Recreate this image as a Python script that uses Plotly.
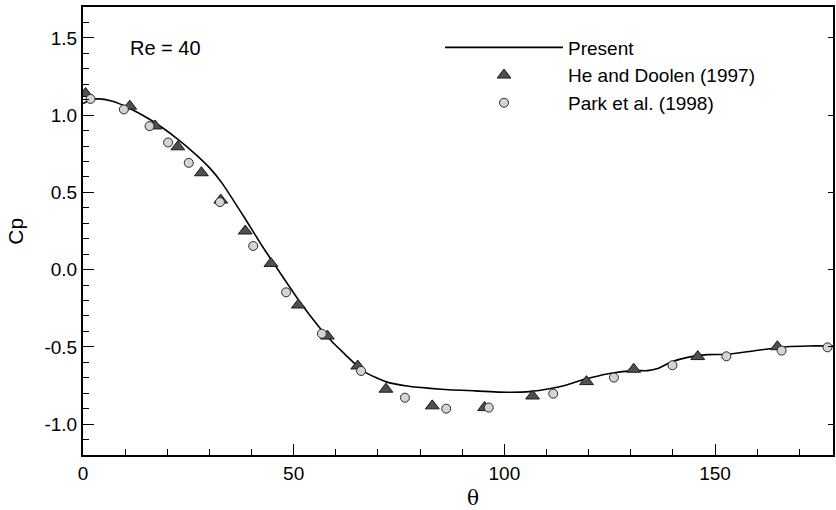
import plotly.graph_objects as go

# Present (line)
present_theta = [0, 2, 4, 7, 11, 16, 22, 27, 30, 33, 38, 42.6, 47.4, 51.7, 53.7, 57.6,
                 61.9, 66.7, 71.8, 77.3, 85, 93, 101, 106, 111, 115, 119, 125, 131,
                 134, 136.4, 139.6, 143.5, 148.2, 153, 159.3, 164, 167, 172, 178]
present_cp = [1.075, 1.10, 1.105, 1.09, 1.045, 0.97, 0.855, 0.74, 0.66, 0.56, 0.35, 0.15,
              -0.046, -0.218, -0.29, -0.423, -0.541, -0.66, -0.725, -0.755, -0.774,
              -0.785, -0.794, -0.79, -0.77, -0.745, -0.71, -0.672, -0.654, -0.654,
              -0.64, -0.598, -0.568, -0.55, -0.548, -0.525, -0.509, -0.499, -0.494, -0.494]

# He and Doolen (1997)
he_theta = [0.6, 11.1, 17.1, 22.5, 28.1, 32.7, 38.5, 44.6, 51.1, 58.0, 65.2, 71.9,
            82.9, 95.3, 106.7, 119.5, 130.7, 145.9, 164.8]
he_cp = [1.14, 1.058, 0.93, 0.795, 0.627, 0.45, 0.25, 0.04, -0.229, -0.43, -0.624,
         -0.774, -0.882, -0.893, -0.818, -0.725, -0.645, -0.563, -0.499]

# Park et al. (1998)
park_theta = [1.8, 9.7, 15.8, 20.2, 25.1, 32.5, 40.4, 48.2, 56.7, 66.0, 76.4, 86.2,
              96.3, 111.6, 126.0, 139.9, 152.7, 165.8, 176.7]
park_cp = [1.105, 1.037, 0.929, 0.823, 0.691, 0.437, 0.153, -0.147, -0.415, -0.656,
           -0.829, -0.9, -0.893, -0.803, -0.699, -0.619, -0.561, -0.524, -0.503]

# tick labels
x_tickvals = [0, 50, 100, 150]
x_ticktext = ["0", "50", "100", "150"]
y_tickvals = [-1.0, -0.5, 0.0, 0.5, 1.0, 1.5]
y_ticktext = ["-1.0", "-0.5", "0.0", "0.5", "1.0", "1.5"]

FONT = "Liberation Sans, Arial, Helvetica, sans-serif"

fig = go.Figure()
fig.add_trace(go.Scatter(x=present_theta, y=present_cp, mode="lines", name="Present",
                         line=dict(color="black", width=1.6, shape="spline", smoothing=0.6)))
fig.add_trace(go.Scatter(x=he_theta, y=he_cp, mode="markers", name="He and Doolen (1997)",
                         marker=dict(symbol="triangle-up", size=12, color="#4f4f4f",
                                     line=dict(color="#1a1a1a", width=1))))
fig.add_trace(go.Scatter(x=park_theta, y=park_cp, mode="markers", name="Park et al. (1998)",
                         marker=dict(symbol="circle", size=9, color="#d4d4d4",
                                     line=dict(color="#2a2a2a", width=1))))
# invisible trace to host right-side tick axis
fig.add_trace(go.Scatter(x=[present_theta[0]], y=[present_cp[0]], yaxis="y2", mode="markers",
                         marker=dict(opacity=0), showlegend=False, hoverinfo="skip"))

fig.update_layout(
    width=836, height=510,
    margin=dict(l=83, r=1, t=7, b=55),
    plot_bgcolor="white", paper_bgcolor="white",
    font=dict(family=FONT, size=19, color="black"),
    showlegend=True,
    legend=dict(x=0.476, y=0.952, xanchor="left", yanchor="top", bgcolor="rgba(0,0,0,0)",
                font=dict(size=19), tracegroupgap=0, itemwidth=118),
    xaxis=dict(range=[0, 178], showgrid=False, zeroline=False, showline=True, linewidth=2,
               linecolor="black", mirror=True, ticks="inside", ticklen=11, tickwidth=1,
               tickcolor="black", tickmode="array", tickvals=x_tickvals, ticktext=x_ticktext,
               minor=dict(ticks="inside", ticklen=6, dtick=10, tick0=0, tickcolor="black",
                          showgrid=False),
               tickfont=dict(size=19)),
    yaxis=dict(range=[-1.2, 1.7], showgrid=False, zeroline=False, showline=True, linewidth=2,
               linecolor="black", mirror=True, ticks="inside", ticklen=11, tickwidth=1,
               tickcolor="black", tickmode="array", tickvals=y_tickvals, ticktext=y_ticktext,
               minor=dict(ticks="inside", ticklen=6, dtick=0.1, tick0=0, tickcolor="black",
                          showgrid=False),
               tickfont=dict(size=19)),
    yaxis2=dict(range=[-1.2, 1.7], overlaying="y", side="right", showgrid=False,
                zeroline=False, showline=False, ticks="inside", ticklen=5, tickwidth=1,
                tickcolor="black", tickmode="array", tickvals=y_tickvals, showticklabels=False),
    annotations=[
        dict(text="Re = 40", x=0.11, y=0.908, xref="paper", yref="paper", showarrow=False,
             font=dict(size=20), xanchor="center", yanchor="middle"),
        dict(text="Cp", x=-0.091, y=0.5, xref="paper", yref="paper", showarrow=False,
             textangle=-90, font=dict(size=21), xanchor="center", yanchor="middle"),
        dict(text="θ", x=0.52, y=-0.096, xref="paper", yref="paper", showarrow=False,
             font=dict(size=20, family="DejaVu Serif, serif"), xanchor="center", yanchor="middle"),
    ],
)

fig.write_html("out.html")
